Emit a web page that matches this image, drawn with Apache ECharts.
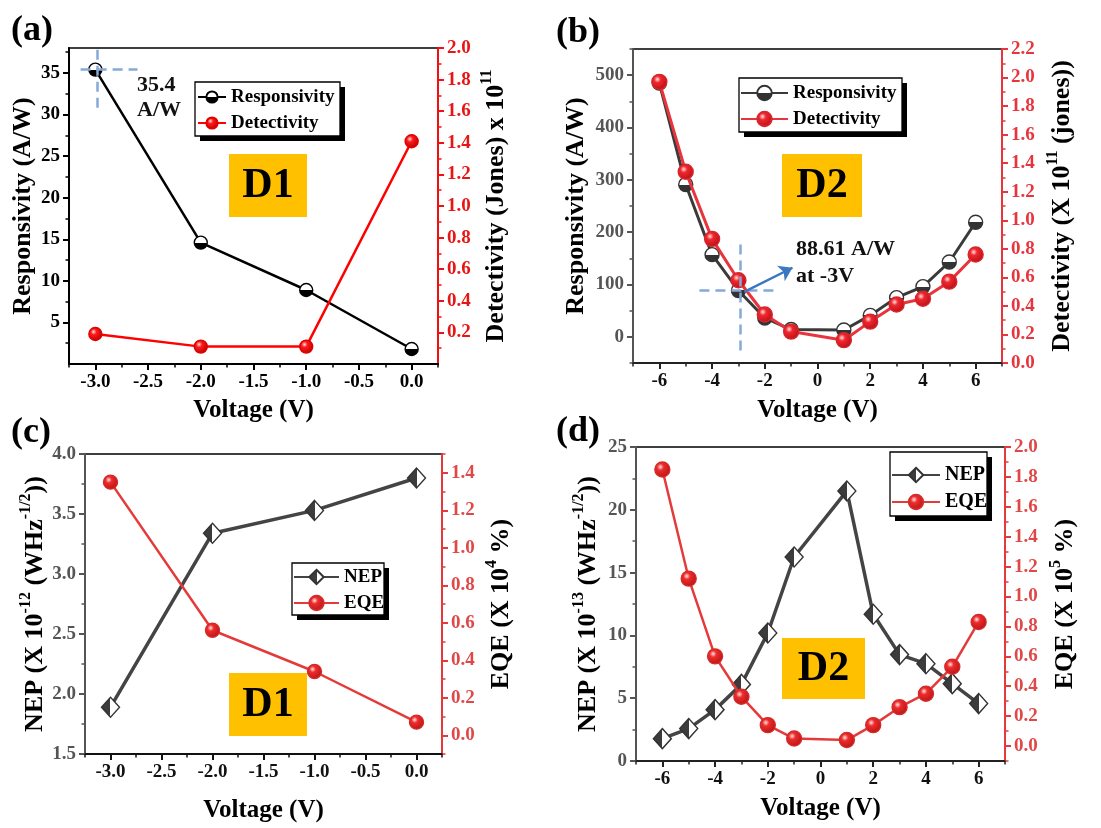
<!DOCTYPE html>
<html>
<head>
<meta charset="utf-8">
<script src="https://cdn.jsdelivr.net/npm/echarts@6/dist/echarts.min.js"></script>
<style>
  html, body { margin: 0; padding: 0; background: #fff; }
  #chart { width: 1101px; height: 828px; }
</style>
</head>
<body>
<div id="chart"></div>
<script>
// ---- measured data ----
const voltageD1 = [-3, -2, -1, 0];
const responsivityD1 = [35.4, 14.6, 8.9, 1.8];
const detectivityD1 = [0.19, 0.11, 0.11, 1.41];
const nepD1 = [1.89, 3.34, 3.53, 3.80];
const eqeD1 = [1.35, 0.56, 0.34, 0.07];

const voltageD2 = [-6, -5, -4, -3, -2, -1, 1, 2, 3, 4, 5, 6];
const responsivityD2 = [485, 291, 157, 88.61, 36, 14, 13, 41, 75, 96, 143, 219];
const detectivityD2 = [1.97, 1.34, 0.87, 0.58, 0.34, 0.22, 0.16, 0.29, 0.41, 0.45, 0.57, 0.76];
const nepD2 = [1.78, 2.58, 4.09, 6.10, 10.19, 16.24, 21.5, 11.68, 8.47, 7.75, 6.16, 4.57];
const eqeD2 = [1.85, 1.12, 0.60, 0.33, 0.14, 0.05, 0.04, 0.14, 0.26, 0.35, 0.53, 0.83];

// ---- tick labels ----
const xTicksD1 = [-3.0, -2.5, -2.0, -1.5, -1.0, -0.5, 0.0];
const xTicksD2 = [-6, -4, -2, 0, 2, 4, 6];
const respTicksD1 = [5, 10, 15, 20, 25, 30, 35];
const detTicksD1 = [0.2, 0.4, 0.6, 0.8, 1.0, 1.2, 1.4, 1.6, 1.8, 2.0];
const respTicksD2 = [0, 100, 200, 300, 400, 500];
const detTicksD2 = [0.0, 0.2, 0.4, 0.6, 0.8, 1.0, 1.2, 1.4, 1.6, 1.8, 2.0, 2.2];
const nepTicksD1 = [1.5, 2.0, 2.5, 3.0, 3.5, 4.0];
const eqeTicksD1 = [0.0, 0.2, 0.4, 0.6, 0.8, 1.0, 1.2, 1.4];
const nepTicksD2 = [0, 5, 10, 15, 20, 25];
const eqeTicksD2 = [0.0, 0.2, 0.4, 0.6, 0.8, 1.0, 1.2, 1.4, 1.6, 1.8, 2.0];

// ---- crosshair / arrow annotations (data coordinates) ----
const peakCrossD1 = { h: [[-3.14, 35.4], [-2.6, 35.4]], v: [[-2.98, 30.8], [-2.98, 38]] };
const peakCrossD2 = { h: [[-4.48, 88.61], [-1.45, 88.61]], v: [[-2.93, -26], [-2.93, 183]] };
const arrowD2 = [[-2.78, 86], [-0.95, 132]];

const FONT = '"Liberation Serif", "Times New Roman", serif';

// minor tick positions between successive major steps
function halfSteps(start, end, step) {
  const out = [];
  for (let v = start; v <= end + 1e-9; v += step) out.push(+v.toFixed(4));
  return out;
}

const grids = [
  { left: 69, top: 48, width: 369, height: 316 },
  { left: 633, top: 49, width: 369, height: 314 },
  { left: 85, top: 454, width: 357, height: 300 },
  { left: 636, top: 447, width: 369, height: 314 }
];

function nameStyle(size) {
  return {
    fontFamily: FONT, fontWeight: 'bold', fontSize: size, color: '#000',
    rich: {
      b: { fontFamily: FONT, fontWeight: 'bold', fontSize: size, color: '#000', lineHeight: size + 4, verticalAlign: 'bottom' },
      s: { fontFamily: FONT, fontWeight: 'bold', fontSize: 16, color: '#000', lineHeight: 17, verticalAlign: 'top' }
    }
  };
}

function mainAxis(o) {
  return {
    type: 'value', gridIndex: o.grid, position: o.pos, min: o.min, max: o.max,
    axisLine: { show: true, onZero: false, lineStyle: { color: o.lineColor, width: 2 } },
    axisTick: { show: true, inside: false, length: 6, customValues: o.ticks, lineStyle: { color: o.lineColor, width: 2 } },
    axisLabel: {
      show: true, customValues: o.ticks, margin: 9, color: o.labelColor,
      fontFamily: FONT, fontWeight: 'bold', fontSize: 19,
      formatter: v => Number(v).toFixed(o.dec)
    },
    splitLine: { show: false },
    name: o.name, nameLocation: 'middle', nameGap: o.gap, nameRotate: o.rot,
    nameTextStyle: nameStyle(o.nameSize)
  };
}

function minorAxis(o) {
  return {
    type: 'value', gridIndex: o.grid, position: o.pos, min: o.min, max: o.max,
    axisLine: { show: false, onZero: false },
    axisTick: { show: true, inside: false, length: 3.5, customValues: o.ticks, lineStyle: { color: o.lineColor, width: 1.5 } },
    axisLabel: { show: false },
    splitLine: { show: false }
  };
}

const panels = [
  {
    x: { min: -3.25, max: 0.25, ticks: xTicksD1, minor: halfSteps(-3.25, 0.25, 0.5), dec: 1, color: '#000', label: '#000', gap: 30 },
    l: { min: 0, max: 38, ticks: respTicksD1, minor: halfSteps(2.5, 37.5, 5), dec: 0, color: '#000', label: '#000', gap: 33,
         name: '{b|Responsivity (A/W)}' },
    r: { min: 0, max: 2.0, ticks: detTicksD1, minor: halfSteps(0.1, 1.9, 0.2), dec: 1, color: '#f01010', label: '#e81515', gap: 41,
         name: '{b|Detectivity (Jones) x 10}{s|11}' }
  },
  {
    x: { min: -7, max: 7, ticks: xTicksD2, minor: halfSteps(-7, 7, 2), dec: 0, color: '#222', label: '#111', gap: 31 },
    l: { min: -50, max: 550, ticks: respTicksD2, minor: halfSteps(-50, 550, 100), dec: 0, color: '#555', label: '#555', gap: 44,
         name: '{b|Responsivity (A/W)}' },
    r: { min: 0, max: 2.2, ticks: detTicksD2, minor: halfSteps(0.1, 2.1, 0.2), dec: 1, color: '#e8343c', label: '#e8343c', gap: 43,
         name: '{b|Detectivity (X 10}{s|11}{b| (jones))}' }
  },
  {
    x: { min: -3.25, max: 0.25, ticks: xTicksD1, minor: halfSteps(-3.25, 0.25, 0.5), dec: 1, color: '#111', label: '#111', gap: 40 },
    l: { min: 1.5, max: 4.0, ticks: nepTicksD1, minor: halfSteps(1.75, 3.75, 0.5), dec: 1, color: '#555', label: '#555', gap: 35,
         name: '{b|NEP (X 10}{s|-12}{b| (WHz}{s|-1/2}{b|))}' },
    r: { min: -0.1, max: 1.5, ticks: eqeTicksD1, minor: halfSteps(-0.1, 1.5, 0.2), dec: 1, color: '#e53a3a', label: '#e04848', gap: 42,
         name: '{b|EQE (X 10}{s|4}{b| %)}' }
  },
  {
    x: { min: -7, max: 7, ticks: xTicksD2, minor: halfSteps(-7, 7, 2), dec: 0, color: '#222', label: '#111', gap: 31 },
    l: { min: 0, max: 25, ticks: nepTicksD2, minor: halfSteps(2.5, 22.5, 5), dec: 0, color: '#555', label: '#555', gap: 35,
         name: '{b|NEP (X 10}{s|-13}{b| (WHz}{s|-1/2}{b|))}' },
    r: { min: -0.1, max: 2.0, ticks: eqeTicksD2, minor: halfSteps(-0.1, 1.9, 0.2), dec: 1, color: '#e53a3a', label: '#e04848', gap: 43,
         name: '{b|EQE (X 10}{s|5}{b| %)}' }
  }
];

const gridOpt = [], xAxes = [], yAxes = [];
grids.forEach(g => gridOpt.push(Object.assign({ show: true, borderColor: '#000', borderWidth: 1.5, containLabel: false }, g)));
grids.forEach(g => gridOpt.push(Object.assign({ show: false, containLabel: false }, g)));

panels.forEach((p, i) => {
  xAxes.push(mainAxis({ grid: i, pos: 'bottom', min: p.x.min, max: p.x.max, ticks: p.x.ticks, dec: p.x.dec,
    lineColor: p.x.color, labelColor: p.x.label, name: '{b|Voltage (V)}', gap: p.x.gap, rot: 0, nameSize: 25 }));
  yAxes.push(mainAxis({ grid: i, pos: 'left', min: p.l.min, max: p.l.max, ticks: p.l.ticks, dec: p.l.dec,
    lineColor: p.l.color, labelColor: p.l.label, name: p.l.name, gap: p.l.gap, rot: 90, nameSize: 26 }));
  yAxes.push(mainAxis({ grid: i, pos: 'right', min: p.r.min, max: p.r.max, ticks: p.r.ticks, dec: p.r.dec,
    lineColor: p.r.color, labelColor: p.r.label, name: p.r.name, gap: p.r.gap, rot: 90, nameSize: 26 }));
});
panels.forEach((p, i) => {
  xAxes.push(minorAxis({ grid: 4 + i, pos: 'bottom', min: p.x.min, max: p.x.max, ticks: p.x.minor, lineColor: p.x.color }));
  yAxes.push(minorAxis({ grid: 4 + i, pos: 'left', min: p.l.min, max: p.l.max, ticks: p.l.minor, lineColor: p.l.color }));
  yAxes.push(minorAxis({ grid: 4 + i, pos: 'right', min: p.r.min, max: p.r.max, ticks: p.r.minor, lineColor: p.r.color }));
});

// ---- marker fills ----
function halfFill(first, second, horizontal) {
  return {
    type: 'linear', x: 0, y: 0, x2: horizontal ? 1 : 0, y2: horizontal ? 0 : 1,
    colorStops: [
      { offset: 0, color: first }, { offset: 0.5, color: first },
      { offset: 0.5, color: second }, { offset: 1, color: second }
    ]
  };
}
function sphere(base, dark) {
  return {
    type: 'radial', x: 0.38, y: 0.35, r: 0.68,
    colorStops: [
      { offset: 0, color: '#ffe2e2' }, { offset: 0.3, color: base }, { offset: 1, color: dark }
    ]
  };
}
const pairs = (xs, ys) => xs.map((x, i) => [x, ys[i]]);

function lineSeries(o) {
  return {
    type: 'line', name: o.name, xAxisIndex: o.x, yAxisIndex: o.y,
    data: o.data, symbol: o.symbol, symbolSize: o.size, showSymbol: true,
    lineStyle: { color: o.line, width: o.width || 2.5 },
    itemStyle: { color: o.fill, borderColor: o.border, borderWidth: 1.4 },
    emphasis: { disabled: true }, animation: false, z: o.z || 2,
    markLine: o.markLine
  };
}

const dashStyle = { color: '#86a9d6', type: [10, 6], width: 2.5 };
const crossLines = c => [
  [{ coord: c.h[0] }, { coord: c.h[1] }],
  [{ coord: c.v[0] }, { coord: c.v[1] }]
];
const arrowLine = a => [
  { coord: a[0], symbol: 'none', lineStyle: { color: '#3b78c0', type: 'solid', width: 2.5 } },
  { coord: a[1], symbol: 'arrow', symbolSize: 13 }
];

const series = [
  lineSeries({ name: 'Responsivity (D1)', x: 0, y: 0, data: pairs(voltageD1, responsivityD1), symbol: 'circle', size: 13,
    line: '#000', fill: halfFill('#ffffff', '#000000'), border: '#000', width: 2.5,
    markLine: { silent: true, symbol: ['none', 'none'], label: { show: false }, lineStyle: dashStyle, data: crossLines(peakCrossD1), animation: false } }),
  lineSeries({ name: 'Detectivity (D1)', x: 0, y: 1, data: pairs(voltageD1, detectivityD1), symbol: 'circle', size: 13,
    line: '#f00', fill: sphere('#ff1a1a', '#b80000'), border: '#e00000', width: 2.5, z: 3 }),

  lineSeries({ name: 'Responsivity (D2)', x: 1, y: 2, data: pairs(voltageD2, responsivityD2), symbol: 'circle', size: 14,
    line: '#3a3a3a', fill: halfFill('#ffffff', '#333333'), border: '#333', width: 3,
    markLine: { silent: true, symbol: ['none', 'none'], label: { show: false }, lineStyle: dashStyle,
      data: crossLines(peakCrossD2).concat([arrowLine(arrowD2)]), animation: false } }),
  lineSeries({ name: 'Detectivity (D2)', x: 1, y: 3, data: pairs(voltageD2, detectivityD2), symbol: 'circle', size: 15,
    line: '#e8343c', fill: sphere('#f0282e', '#b50f16'), border: '#d8262e', width: 3, z: 3 }),

  lineSeries({ name: 'NEP (D1)', x: 2, y: 4, data: pairs(voltageD1, nepD1), symbol: 'diamond', size: [18, 20],
    line: '#444', fill: halfFill('#3c3c3c', '#ffffff', true), border: '#333', width: 3.5 }),
  lineSeries({ name: 'EQE (D1)', x: 2, y: 5, data: pairs(voltageD1, eqeD1), symbol: 'circle', size: 14,
    line: '#e53a3a', fill: sphere('#ee2c2c', '#b51414'), border: '#d62a2a', width: 2.5, z: 3 }),

  lineSeries({ name: 'NEP (D2)', x: 3, y: 6, data: pairs(voltageD2, nepD2), symbol: 'diamond', size: [18, 20],
    line: '#444', fill: halfFill('#3c3c3c', '#ffffff', true), border: '#333', width: 3.5 }),
  lineSeries({ name: 'EQE (D2)', x: 3, y: 7, data: pairs(voltageD2, eqeD2), symbol: 'circle', size: 15,
    line: '#e53a3a', fill: sphere('#ee2c2c', '#b51414'), border: '#d62a2a', width: 2.5, z: 3 })
];

// legend boxes: frame drawn as graphics (white box with solid offset shadow)
const legendFrames = [
  { names: ['Responsivity (D1)', 'Detectivity (D1)'], box: [195, 82, 145, 54], iconLeft: 197, padTop: 4, iconW: 28, iconH: 14, gap: 4, font: 19 },
  { names: ['Responsivity (D2)', 'Detectivity (D2)'], box: [739, 78, 163, 54], iconLeft: 740, padTop: 4, iconW: 47, iconH: 18, gap: 4, font: 19 },
  { names: ['NEP (D1)', 'EQE (D1)'], box: [292, 563, 92, 52], iconLeft: 293, padTop: 3, iconW: 45, iconH: 18, gap: 4, font: 19 },
  { names: ['NEP (D2)', 'EQE (D2)'], box: [890, 452, 97, 64], iconLeft: 891, padTop: 12, iconW: 48, iconH: 18, gap: 5, font: 20 }
];

const legends = legendFrames.map(f => ({
  data: f.names, left: f.iconLeft, top: f.box[1], orient: 'vertical', selectedMode: false,
  itemWidth: f.iconW, itemHeight: f.iconH, itemGap: f.gap, padding: [f.padTop, 0, 0, 0],
  backgroundColor: 'transparent', borderWidth: 0, z: 6,
  formatter: n => n.replace(/ \(D\d\)$/, ''),
  textStyle: { fontFamily: FONT, fontWeight: 'bold', fontSize: f.font, lineHeight: 22, color: '#000' }
}));

function frame(f) {
  const [x, y, w, h] = f.box;
  const s = 5;
  return [
    { type: 'rect', z: 5, shape: { x: x + w, y: y + s, width: s, height: h }, style: { fill: '#000000', opacity: 1 } },
    { type: 'rect', z: 5, shape: { x: x + s, y: y + h, width: w, height: s }, style: { fill: '#000000', opacity: 1 } },
    { type: 'rect', z: 5, shape: { x: x, y: y, width: w, height: h }, style: { fill: '#ffffff', stroke: '#000000', lineWidth: 1.3 } }
  ];
}

function tag(text, x, y) {
  return { type: 'text', x: x, y: y, z: 50,
    style: { text: text, font: 'bold 36px ' + FONT, fill: '#000', align: 'left', verticalAlign: 'middle' } };
}
function note(text, x, y, size) {
  return { type: 'text', x: x, y: y, z: 50,
    style: { text: text, font: 'bold ' + size + 'px ' + FONT, fill: '#111', align: 'left', verticalAlign: 'middle' } };
}
function deviceBox(text, x, y, w, h) {
  return { type: 'group', z: 1, children: [
    { type: 'rect', shape: { x: x, y: y, width: w, height: h }, style: { fill: '#FFC000' } },
    { type: 'text', x: x + w / 2, y: y + h / 2 + 1,
      style: { text: text, font: 'bold 42px ' + FONT, fill: '#000', align: 'center', verticalAlign: 'middle' } }
  ] };
}

const graphics = [
  tag('(a)', 11, 31), tag('(b)', 556, 33), tag('(c)', 11, 433), tag('(d)', 556, 432),
  deviceBox('D1', 229, 154, 78, 63), deviceBox('D2', 782, 154, 80, 63),
  deviceBox('D1', 229, 673, 78, 63), deviceBox('D2', 782, 638, 83, 61),
  note('35.4', 137, 85, 22), note('A/W', 137, 110, 22),
  note('88.61 A/W', 796, 249, 22), note('at -3V', 796, 276, 22)
].concat(...legendFrames.map(frame));

const chart = echarts.init(document.getElementById('chart'), null, { renderer: 'canvas' });
chart.setOption({
  backgroundColor: '#fff',
  animation: false,
  grid: gridOpt,
  xAxis: xAxes,
  yAxis: yAxes,
  legend: legends,
  series: series,
  graphic: graphics
});
</script>
</body>
</html>
